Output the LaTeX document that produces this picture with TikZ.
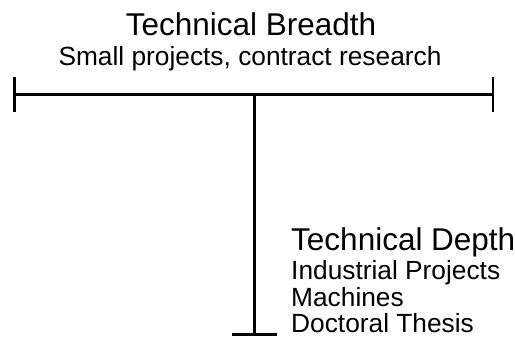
\documentclass[tikz,border=0pt]{standalone}
\usepackage{fontspec}
\setmainfont{Liberation Sans}
\tikzset{
  bar/.style={line width=2.6pt, black},
  bigtxt/.style={inner sep=0pt, anchor=base, font=\fontsize{31.5}{31.5}\selectfont},
  smalltxt/.style={inner sep=0pt, anchor=base, font=\fontsize{26.3}{26.3}\selectfont},
}
\begin{document}
\begin{tikzpicture}[x=1pt,y=-1pt]
\useasboundingbox (0,0) rectangle (515,338);
% coordinates
\coordinate (L) at (14.5,94.5);
\coordinate (R) at (493,94.5);
\coordinate (Lt) at (14.5,77);
\coordinate (Lb) at (14.5,112);
\coordinate (Rt) at (493,77);
\coordinate (Rb) at (493,112);
\coordinate (top) at (254.5,94.5);
\coordinate (bot) at (254.5,334.5);
\coordinate (bl) at (232,334.5);
\coordinate (br) at (277,334.5);
% lines
\draw[bar] (L) -- (R);
\draw[bar] (Lt) -- (Lb);
\draw[bar] (Rt) -- (Rb);
\draw[bar] (top) -- (bot);
\draw[bar] (bl) -- (br);
% text
\node[bigtxt] (breadth) at (251,35) {Technical Breadth};
\node[smalltxt] (breadthsub) at (250,65) {Small projects, contract research};
\node[bigtxt, anchor=base west] (depth) at (291,250) {Technical Depth};
\node[smalltxt, anchor=base west] (ind) at (291,279) {Industrial Projects};
\node[smalltxt, anchor=base west] (mach) at (291,306) {Machines};
\node[smalltxt, anchor=base west] (doc) at (291,332.5) {Doctoral Thesis};
\end{tikzpicture}
\end{document}
